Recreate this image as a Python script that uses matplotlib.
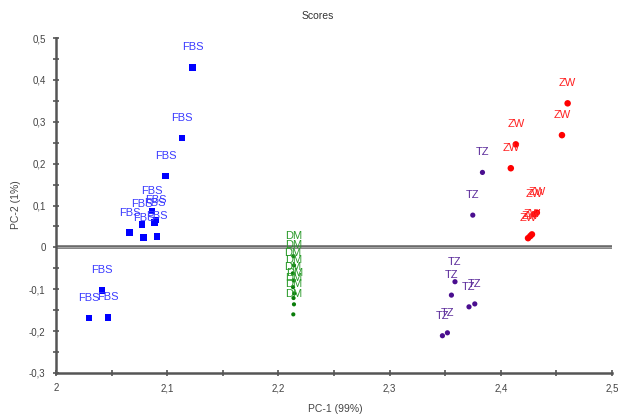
import matplotlib
matplotlib.use("Agg")
import matplotlib.pyplot as plt
from matplotlib.ticker import MultipleLocator, FuncFormatter

# ---- data ----
fbs_x = [2.1228, 2.1135, 2.0985, 2.0862, 2.0775, 2.0898, 2.0886, 2.0660, 2.0786, 2.0907,
         2.0412, 2.0297, 2.0466]
fbs_y = [0.430, 0.261, 0.170, 0.087, 0.055, 0.065, 0.059, 0.035, 0.023, 0.026,
         -0.103, -0.169, -0.167]

dm_x = [2.2135, 2.2140, 2.2130, 2.2138, 2.2132, 2.2142, 2.2136, 2.2140, 2.2134]
dm_y = [-0.021, -0.043, -0.062, -0.079, -0.095, -0.110, -0.121, -0.136, -0.160]

tz_x = [2.3835, 2.3748, 2.3588, 2.3556, 2.3714, 2.3766, 2.3475, 2.3520]
tz_y = [0.179, 0.077, -0.082, -0.114, -0.142, -0.135, -0.211, -0.204]

zw_x = [2.4601, 2.4550, 2.4135, 2.4090, 2.4324, 2.4300, 2.4280, 2.4265, 2.4245]
zw_y = [0.344, 0.268, 0.246, 0.189, 0.083, 0.079, 0.031, 0.027, 0.022]

groups = [
    ("FBS", fbs_x, fbs_y, "#0000ff", "#3b3bff", "s", 22),
    ("DM", dm_x, dm_y, "#0a7d0a", "#2a9a2a", "o", 9),
    ("TZ", tz_x, tz_y, "#4a0e8f", "#5a2a9a", "o", 14),
    ("ZW", zw_x, zw_y, "#ff0000", "#ff2020", "o", 22),
]

x_ticks = [2.0, 2.1, 2.2, 2.3, 2.4, 2.5]
y_ticks = [-0.3, -0.2, -0.1, 0.0, 0.1, 0.2, 0.3, 0.4, 0.5]

fig = plt.figure(figsize=(6.24, 4.17), dpi=100)
ax = fig.add_axes([56 / 624, 1 - 373 / 417, (612 - 56) / 624, (373 - 38) / 417])

for name, xs, ys, mc, tc, mk, s in groups:
    ax.scatter(xs, ys, s=s, marker=mk, color=mc, edgecolors="none", zorder=3)
    for x, y in zip(xs, ys):
        ax.annotate(name, (x, y), xytext=(0, 14.5), textcoords="offset points",
                    ha="center", va="center", fontsize=8, color=tc,
                    family="Liberation Sans", zorder=4)

ax.axhline(0, color="#6a6a6a", lw=2.6, zorder=2)
ax.axhline(0, color="#b0b0b0", lw=0.6, zorder=2)

ax.set_xlim(2.0, 2.5)
ax.set_ylim(-0.3, 0.5)
ax.set_xticks(x_ticks)
ax.set_yticks(y_ticks)
ax.xaxis.set_minor_locator(MultipleLocator(0.05))
ax.yaxis.set_minor_locator(MultipleLocator(0.05))


def fmt(v, pos):
    s = ("%.1f" % v).rstrip("0").rstrip(".")
    if s in ("-0", ""):
        s = "0"
    return s.replace(".", ",")


ax.xaxis.set_major_formatter(FuncFormatter(fmt))
ax.yaxis.set_major_formatter(FuncFormatter(fmt))

for sp in ("top", "right"):
    ax.spines[sp].set_visible(False)
for sp in ("left", "bottom"):
    ax.spines[sp].set_color("#555555")
    ax.spines[sp].set_linewidth(1.8)

ax.tick_params(which="both", direction="inout", color="#555555", width=1.2,
               labelsize=7, labelcolor="#444444")
ax.tick_params(which="major", length=5, pad=5)
ax.tick_params(which="minor", length=4)
for lab in ax.get_xticklabels() + ax.get_yticklabels():
    lab.set_family("Liberation Sans")

fig.text(318 / 624, 1 - 16 / 417, "Scores", ha="center", va="center",
         fontsize=7.5, color="#333333", family="Liberation Sans")
fig.text(335 / 624, 1 - 409 / 417, "PC-1 (99%)", ha="center", va="center",
         fontsize=7.5, color="#444444", family="Liberation Sans")
fig.text(16 / 624, 1 - 205 / 417, "PC-2 (1%)", ha="center", va="center",
         rotation=90, fontsize=7.5, color="#444444", family="Liberation Sans")

fig.savefig("out.png", dpi=100, facecolor="white")
